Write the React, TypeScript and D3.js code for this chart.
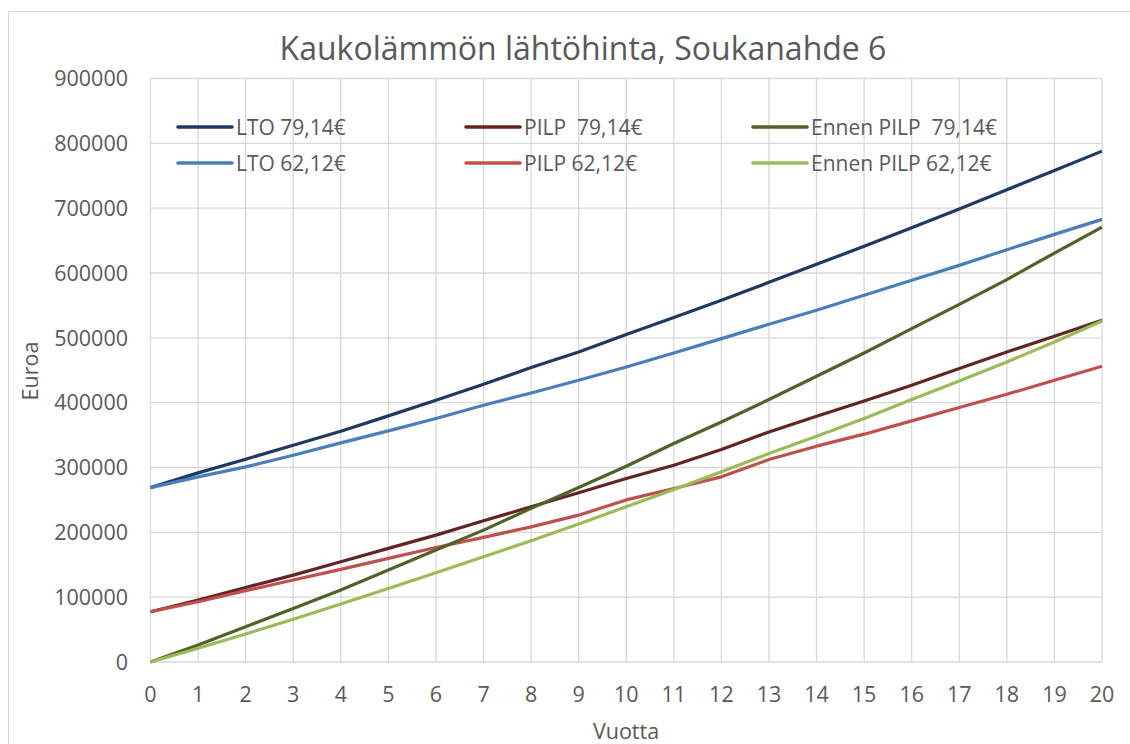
import React, { useRef, useEffect } from "react";
import * as d3 from "d3";

const years = d3.range(0, 21);

const lto79 = [269000, 291700, 312800, 334400, 356000, 379600, 403800, 428400, 454100, 478200, 505000, 531200, 557900, 585600, 613400, 641100, 669900, 698600, 728500, 758200, 788000];
const lto62 = [269000, 285600, 301000, 319000, 338000, 356500, 375500, 396000, 415000, 434600, 455000, 476700, 498800, 520900, 542500, 565600, 588700, 611800, 636000, 659600, 682700];
const pilp79 = [77500, 95500, 115000, 134000, 154500, 175200, 195700, 217800, 239400, 261000, 283000, 303600, 327800, 354900, 379100, 402700, 426900, 452600, 478200, 502400, 527000];
const pilp62 = [77500, 93000, 110000, 126400, 142800, 159800, 176700, 192200, 208500, 226500, 250000, 267700, 285600, 312300, 332900, 351400, 371900, 392500, 413000, 434600, 456200];
const ennen79 = [0, 26200, 54400, 82700, 111000, 141800, 172600, 203400, 236900, 269200, 302000, 337000, 370300, 404800, 440700, 476700, 514300, 551700, 589800, 630800, 670800];
const ennen62 = [0, 21100, 43200, 65800, 89400, 113500, 137600, 162300, 187000, 212700, 239400, 266100, 293300, 321600, 348300, 375500, 404800, 433500, 462800, 493600, 526000];

const seriesNames = ["LTO 79,14€", "LTO 62,12€", "PILP  79,14€", "PILP 62,12€", "Ennen PILP  79,14€", "Ennen PILP 62,12€"];
const seriesColors = ["#1f3a60", "#4a7ebb", "#632523", "#c0504d", "#4f6228", "#9bbb59"];
const seriesValues = [lto79, lto62, pilp79, pilp62, ennen79, ennen62];

const yTicks = d3.range(0, 900001, 100000);

const W = 1130;
const H = 744;
const margin = { top: 78.5, right: 28, bottom: 82, left: 150.5 };
const font = "'Open Sans', sans-serif";
const textColor = "#595959";

const App = () => {
  const svgRef = useRef<SVGSVGElement>(null);

  useEffect(() => {
    const svg = d3.select(svgRef.current);
    svg.selectAll("*").remove();

    const x = d3.scaleLinear().domain([0, 20]).range([margin.left, W - margin.right]);
    const y = d3.scaleLinear().domain([0, 900000]).range([H - margin.bottom, margin.top]);

    // outer chart border
    svg.append("rect")
      .attr("x", 8.5).attr("y", 11.5)
      .attr("width", W + 20).attr("height", H + 20)
      .attr("fill", "white").attr("stroke", "#d9d9d9");

    // grid
    const grid = svg.append("g");
    grid.selectAll(".hg").data(yTicks).join("line")
      .attr("x1", x(0)).attr("x2", x(20))
      .attr("y1", d => y(d)).attr("y2", d => y(d))
      .attr("stroke", "#d9d9d9").attr("stroke-width", 1.3);
    grid.selectAll(".vg").data(years).join("line")
      .attr("x1", d => x(d)).attr("x2", d => x(d))
      .attr("y1", y(0)).attr("y2", y(900000))
      .attr("stroke", "#d9d9d9").attr("stroke-width", 1.3);

    // y tick labels
    svg.append("g").selectAll("text").data(yTicks).join("text")
      .attr("x", 128).attr("y", d => y(d))
      .attr("dy", "0.36em").attr("text-anchor", "end")
      .attr("font-family", font).attr("font-size", 21.5).attr("fill", textColor)
      .text(d => String(d));

    // x tick labels
    svg.append("g").selectAll("text").data(years).join("text")
      .attr("x", d => x(d)).attr("y", 701.5)
      .attr("text-anchor", "middle")
      .attr("font-family", font).attr("font-size", 21.5).attr("fill", textColor)
      .text(d => String(d));

    // lines
    const line = d3.line<number>().x((_, i) => x(years[i])).y(d => y(d));
    svg.append("g").selectAll("path").data(seriesValues).join("path")
      .attr("d", d => line(d))
      .attr("fill", "none")
      .attr("stroke", (_, i) => seriesColors[i])
      .attr("stroke-width", 3.2)
      .attr("stroke-linejoin", "round");

    // legend
    const legCols = [178, 466, 753];
    const legRows = [127, 163];
    const leg = svg.append("g");
    seriesNames.forEach((name, i) => {
      const col = Math.floor(i / 2);
      const row = i % 2;
      const lx = legCols[col];
      const ly = legRows[row];
      leg.append("line")
        .attr("x1", lx).attr("x2", lx + 54)
        .attr("y1", ly).attr("y2", ly)
        .attr("stroke", seriesColors[i]).attr("stroke-width", 3.6)
        .attr("stroke-linecap", "round");
      leg.append("text")
        .attr("x", lx + 58).attr("y", ly).attr("dy", "0.36em")
        .attr("font-family", font).attr("font-size", 21).attr("fill", textColor)
        .attr("xml:space", "preserve")
        .style("white-space", "pre")
        .text(name);
    });

    // title and axis titles
    svg.append("text")
      .attr("x", 583).attr("y", 60).attr("text-anchor", "middle")
      .attr("font-family", font).attr("font-size", 32).attr("fill", textColor)
      .text("Kaukolämmön lähtöhinta, Soukanahde 6");
    svg.append("text")
      .attr("transform", `translate(38, 371) rotate(-90)`)
      .attr("text-anchor", "middle")
      .attr("font-family", font).attr("font-size", 21.5).attr("fill", textColor)
      .text("Euroa");
    svg.append("text")
      .attr("x", 626).attr("y", 739).attr("text-anchor", "middle")
      .attr("font-family", font).attr("font-size", 21.5).attr("fill", textColor)
      .text("Vuotta");
  }, []);

  return (
    <svg
      ref={svgRef}
      width={W}
      height={H}
      viewBox={`0 0 ${W} ${H}`}
      style={{ position: "absolute", left: 0, top: 0, background: "white" }}
    />
  );
};

export default App;
